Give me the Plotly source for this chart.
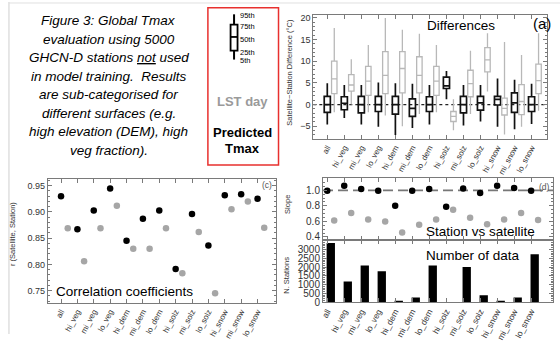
import numpy as np
import plotly.graph_objects as go

W, H = 560, 342
FONT = "Liberation Sans"

categories = ['all', 'hi_veg', 'mi_veg', 'lo_veg', 'hi_dem', 'mi_dem', 'lo_dem',
              'hi_solz', 'mi_solz', 'lo_solz', 'hi_snow', 'mi_snow', 'lo_snow']

# Panel (a): Satellite - Station differences (percentiles 5/25/50/75/95)
pred_p5 = [-4.6, -3.1, -4.6, -5.1, -7.0, -5.4, -4.6, 1.2, -4.8, -3.9, -5.1, -5.7, -4.5]
pred_p25 = [-1.8, -1.2, -1.9, -1.6, -2.2, -2.7, -1.6, 3.7, -1.9, -1.3, -0.1, -1.8, -1.6]
pred_p50 = [0.0, 0.3, 0.0, 0.0, 0.0, -0.9, 0.0, 4.3, 0.0, 0.4, 1.2, 0.4, 0.0]
pred_p75 = [1.9, 1.8, 1.9, 1.9, 1.9, 1.3, 1.8, 6.3, 1.9, 1.9, 1.9, 2.7, 1.8]
pred_p95 = [4.9, 4.5, 4.5, 5.1, 4.9, 4.8, 4.5, 7.7, 4.5, 4.5, 6.0, 5.7, 4.8]

lst_p5 = [-1.8, 0.0, -1.8, -2.5, -5.0, -2.2, -1.8, -5.9, -2.2, 3.0, -6.9, -5.1, -1.4]
lst_p25 = [2.5, 3.1, 2.1, 2.5, 2.7, 2.7, 2.1, -3.9, 1.8, 7.5, -2.4, -2.3, 2.5]
lst_p50 = [5.9, 4.5, 5.4, 6.7, 8.3, 6.7, 5.4, -2.7, 4.8, 10.3, -0.9, 0.7, 5.5]
lst_p75 = [10.0, 6.9, 8.8, 12.2, 12.2, 11.0, 8.8, -1.6, 7.9, 13.1, 1.5, 4.6, 9.3]
lst_p95 = [17.6, 10.4, 13.7, 19.9, 17.2, 16.3, 13.7, 1.2, 12.4, 16.4, 14.4, 11.4, 16.4]

# Panel (c): correlation coefficients
corr_pred = [0.930, 0.867, 0.903, 0.945, 0.845, 0.887, 0.903, 0.791, 0.896, 0.836, 0.932, 0.934, 0.925]
corr_lst = [0.869, 0.806, 0.869, 0.912, 0.830, 0.830, 0.869, 0.783, 0.862, 0.745, 0.905, 0.920, 0.870]

# Panel (d): slope and number of stations
slope_pred = [0.996, 1.058, 1.017, 0.996, 0.800, 0.996, 1.017, 0.790, 1.025, 0.967, 1.058, 1.030, 0.996]
slope_lst = [0.612, 0.708, 0.625, 0.600, 0.458, 0.558, 0.625, 0.750, 0.646, 0.562, 0.625, 0.708, 0.617]
n_stations = [3370, 1180, 2090, 1760, 90, 270, 2090, 0, 2000, 400, 70, 270, 2730]

BLACK = "#111111"
GREY = "#a6a6a6"
LST_OFF = 0.41

idx = np.arange(len(categories))


def px(x):
    return x / W


def py(y):
    return 1 - y / H


fig = go.Figure()

# ---- panel (a) boxes
fig.add_trace(go.Box(x=idx, q1=pred_p25, median=pred_p50, q3=pred_p75,
                     lowerfence=pred_p5, upperfence=pred_p95, width=0.36,
                     whiskerwidth=0, line=dict(color=BLACK, width=1.7),
                     fillcolor="rgba(255,255,255,0)", xaxis="x", yaxis="y",
                     showlegend=False, hoverinfo="skip"))
fig.add_trace(go.Box(x=idx + LST_OFF, q1=lst_p25, median=lst_p50, q3=lst_p75,
                     lowerfence=lst_p5, upperfence=lst_p95, width=0.32,
                     whiskerwidth=0, line=dict(color="#b8b8b8", width=1.3),
                     fillcolor="rgba(255,255,255,0)", xaxis="x", yaxis="y",
                     showlegend=False, hoverinfo="skip"))

# ---- panel (c) correlation
fig.add_trace(go.Scatter(x=idx, y=corr_pred, mode="markers",
                         marker=dict(color="black", size=6.5), xaxis="x2", yaxis="y2", showlegend=False))
fig.add_trace(go.Scatter(x=idx + LST_OFF, y=corr_lst, mode="markers",
                         marker=dict(color=GREY, size=6.5), xaxis="x2", yaxis="y2", showlegend=False))

# ---- panel (d) slope
fig.add_trace(go.Scatter(x=idx, y=slope_pred, mode="markers",
                         marker=dict(color="black", size=6.5), xaxis="x3", yaxis="y3", showlegend=False))
fig.add_trace(go.Scatter(x=idx + LST_OFF, y=slope_lst, mode="markers",
                         marker=dict(color=GREY, size=6.5), xaxis="x3", yaxis="y3", showlegend=False))

# ---- panel (d) bars
fig.add_trace(go.Bar(x=idx + 0.21, y=n_stations, width=0.49, marker=dict(color="black", line=dict(width=0)),
                     xaxis="x4", yaxis="y4", showlegend=False))

AX = dict(showline=True, linecolor="#7a7a7a", linewidth=1, mirror="allticks",
          ticks="inside", tickcolor="#7a7a7a", ticklen=4, showgrid=False, zeroline=False,
          tickfont=dict(family=FONT, size=9, color="#333"))


def xax(domain, rng, anchor, labels=True, size=8):
    d = dict(AX)
    d.update(domain=domain, range=rng, anchor=anchor, tickmode="array",
             tickvals=list(idx), ticktext=categories if labels else [""] * len(categories),
             showticklabels=labels, tickangle=-62,
             tickfont=dict(family=FONT, size=size, color="#333"))
    return d


def yax(domain, rng, anchor, tickvals, minor, size=9, ticktext=None):
    d = dict(AX)
    d.update(domain=domain, range=rng, anchor=anchor, tickmode="array", tickvals=tickvals,
             minor=dict(ticks="inside", ticklen=2, tickcolor="#7a7a7a", dtick=minor, showgrid=False),
             tickfont=dict(family=FONT, size=size, color="#333"))
    if ticktext is not None:
        d["ticktext"] = ticktext
    return d


fig.update_layout(
    width=W, height=H, margin=dict(l=0, r=0, t=0, b=0),
    paper_bgcolor="white", plot_bgcolor="white", boxmode="overlay",
    font=dict(family=FONT),
    xaxis=xax([px(312), px(547)], [-0.82, 12.91], "y"),
    yaxis=yax([py(141), py(13)], [-7.9, 20.7], "x", [-5, 0, 5, 10, 15, 20], 1),
    xaxis2=xax([px(45), px(274)], [-0.81, 13.1], "y2"),
    yaxis2=yax([py(310), py(182)], [0.7265, 0.9635], "x2", [0.75, 0.80, 0.85, 0.90, 0.95], 0.01,
               ticktext=["0.75", "0.80", "0.85", "0.90", "0.95"]),
    xaxis3=xax([px(321.7), px(553)], [-0.25, 13.29], "y3", labels=False),
    yaxis3=yax([py(245), py(181.7)], [0.3625, 1.154], "x3", [0.4, 0.6, 0.8, 1.0], 0.05, size=10,
               ticktext=["0.4", "0.6", "0.8", "1.0"]),
    xaxis4=xax([px(321.7), px(553)], [-0.25, 13.29], "y4", size=8.5),
    yaxis4=yax([py(309.3), py(245)], [0, 3550], "x4", [0, 500, 1000, 1500, 2000, 2500, 3000], 100, size=10),
)

shapes = []
# slide border lines
shapes.append(dict(type="line", xref="paper", yref="paper", x0=px(6), x1=px(6), y0=py(0), y1=py(342),
                   line=dict(color="#cfcfcf", width=1)))
shapes.append(dict(type="line", xref="paper", yref="paper", x0=px(6), x1=px(560), y0=py(1), y1=py(1),
                   line=dict(color="#e0e0e0", width=1)))
# red legend box
shapes.append(dict(type="rect", xref="paper", yref="paper", x0=px(206), x1=px(277), y0=py(168), y1=py(6),
                   line=dict(color="#e8302e", width=1.5)))
# legend glyph
shapes.append(dict(type="line", xref="paper", yref="paper", x0=px(232.3), x1=px(232.3), y0=py(59.3), y1=py(12.7),
                   line=dict(color="black", width=2)))
shapes.append(dict(type="rect", xref="paper", yref="paper", x0=px(228.8), x1=px(235.8), y0=py(50), y1=py(23.3),
                   line=dict(color="black", width=1.8), fillcolor="white"))
shapes.append(dict(type="line", xref="paper", yref="paper", x0=px(228.8), x1=px(235.8), y0=py(36), y1=py(36),
                   line=dict(color="black", width=1.8)))
# zero line in (a)
shapes.append(dict(type="line", xref="x domain", yref="y", x0=0, x1=1, y0=0, y1=0,
                   line=dict(color="#222", width=1.2, dash="dot"), layer="below"))
# 1.0 reference line in slope panel
shapes.append(dict(type="line", xref="x3 domain", yref="y3", x0=0, x1=1, y0=1, y1=1,
                   line=dict(color="#777", width=1.6, dash="10px,5px"), layer="below"))
fig.update_layout(shapes=shapes)

anns = []


def ann(text, x, y, size, color="black", xanchor="center", angle=0):
    anns.append(dict(text=text, x=px(x), y=py(y), xref="paper", yref="paper", showarrow=False,
                     xanchor=xanchor, yanchor="middle", textangle=angle,
                     font=dict(family=FONT, size=size, color=color)))


caption = ["Figure 3: Global Tmax", "evaluation using 5000", "GHCN-D stations <u>not</u> used",
           "in model training.  Results", "are sub-categorised for", "different surfaces (e.g.",
           "high elevation (DEM), high", "veg fraction)."]
for k, line in enumerate(caption):
    ann("<i>" + line + "</i>", 106.5, 19.3 + 19.03 * k, 13.5)

# legend labels
for lab, yy in [("95th", 14.3), ("75th", 25), ("50th", 38.3), ("25th", 51.7), ("5th", 60.5)]:
    ann(lab, 236.3, yy, 7.5, xanchor="left")
ann("<b>LST day</b>", 240.5, 102.5, 13, color="#9a9a9a")
ann("<b>Predicted</b>", 240.5, 134, 13)
ann("<b>Tmax</b>", 240.5, 150.5, 13)

# panel labels
ann("Differences", 460, 24, 13.5)
ann("(a)", 553, 22, 15, xanchor="right")
ann("Correlation coefficients", 51.5, 298, 13.5, xanchor="left")
ann("(c)", 272, 189, 8.5, color="#555", xanchor="right")
ann("(d)", 551.5, 191, 8.5, color="#555", xanchor="right")
ann("Station vs satellite", 480, 236.7, 13.5)
ann("Number of data", 472.5, 261, 13.5)

# axis titles
ann("Satellite\u2212Station Difference (\u00b0C)", 288.3, 72, 7.5, color="#333", angle=-90)
ann("r (Satellite, Station)", 9.5, 238.5, 7.5, color="#333", angle=-90)
ann("Slope", 286.5, 208, 7.5, color="#333", angle=-90)
ann("N. Stations", 285.5, 281, 7.5, color="#333", angle=-90)

fig.update_layout(annotations=anns)

fig.write_html("out.html", config={"displayModeBar": False},
               post_script="document.body.style.margin='0px';document.body.style.overflow='hidden';")
